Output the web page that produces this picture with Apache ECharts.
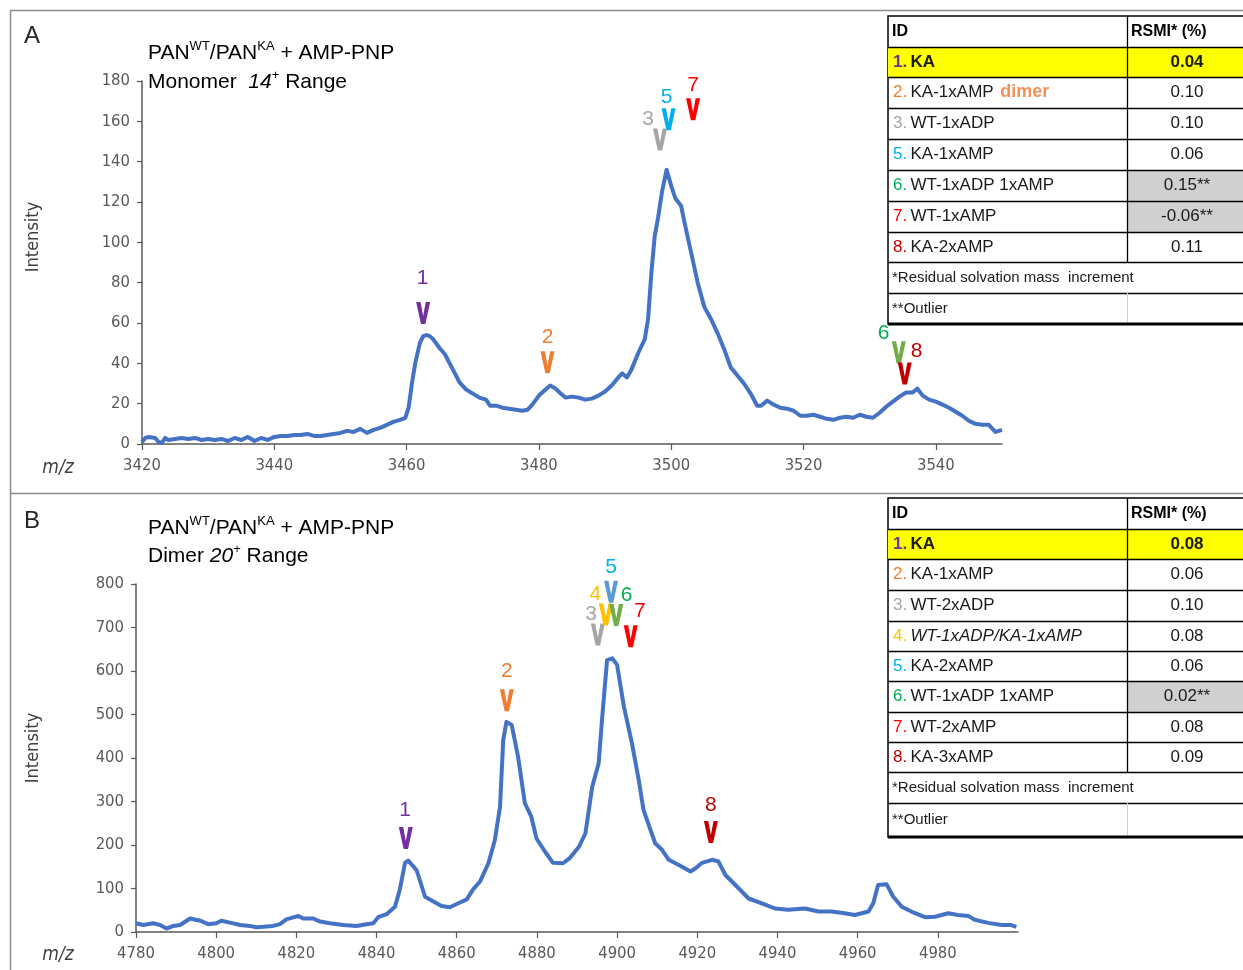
<!DOCTYPE html>
<html><head><meta charset="utf-8">
<script src="https://cdn.jsdelivr.net/npm/echarts/dist/echarts.min.js"></script>
<style>html,body{margin:0;padding:0;background:#fff}#c{width:1243px;height:970px}</style>
</head><body><div id="c"></div>
<script>
// ---------- Panel A data (Monomer 14+ range) ----------
const mzA = [3420,3420.5,3421,3422,3422.5,3423,3423.5,3424,3425,3426,3427,3428,3429,3430,3431,3432,3433,3434,3435,3436,3437,3438,3439,3440,3441,3442,3443,3444,3445,3446,3447,3448,3449,3450,3451,3452,3453,3454,3455,3456,3457,3458,3459,3459.8,3460.3,3460.8,3461.3,3462,3462.5,3463,3463.5,3464,3465,3465.8,3466.5,3467.3,3468,3469,3470,3471,3472,3472.6,3473.5,3474.5,3475.5,3476.5,3477.5,3478.3,3479,3480,3481,3481.7,3482.5,3483.3,3484,3485,3486,3487,3488,3489,3490,3491,3492,3492.6,3493.3,3494,3495,3496,3496.5,3497,3497.5,3498,3498.6,3499.3,3500,3500.6,3501.5,3502,3503,3504,3505,3506,3507,3508,3509,3510,3511,3512,3513,3513.6,3514.5,3515.5,3516.5,3517.5,3518.5,3519.5,3520.5,3521.5,3522.5,3523.5,3524.5,3525.5,3526.5,3527.5,3528.5,3529.5,3530.5,3531.5,3532.5,3533.5,3534.5,3535.5,3536.5,3537.2,3538,3539,3540,3541,3542,3543,3544,3545,3546,3547,3548,3549,3550];
const intA = [1,3,3.5,3,1,0.5,3,2,2.5,3,2.5,3,2,2.5,2,2.5,1.5,3,2,3.5,1.5,3,2,3.5,4,4,4.5,4.5,5,4,4,4.5,5,5.5,6.5,6,7.5,5.5,7,8,9.5,11,12,13,18,30,40,50,53.5,54,53.5,52,47.5,44.5,40,35,30.5,27,25,23,22,19,19,18,17.5,17,16.5,17,19.5,24,27,29,27.5,25,23,23.5,23,22,22.5,24,26,29,33,35,33,37,45,52,62,85,103,112,125,136,128,122,118,110,95,80,68,62,55,47,38,34,30,25,19,19,21.5,19.5,18,17.5,16.5,14,14,14.5,13.5,12.5,12,13,13.5,13,14.5,13.5,13,15.5,18.5,21,23.5,25.5,25.5,27.5,24,22,21,19.5,18,16,14,11.5,10,9.5,9.5,6,7];

// ---------- Panel B data (Dimer 20+ range) ----------
const mzB = [4780,4781.8,4784.3,4786,4787.6,4789.3,4791,4793.5,4796,4798,4800,4801.3,4803.4,4806,4808.4,4810,4811.8,4814.2,4815.9,4817.5,4820.5,4821.7,4824.2,4825.9,4828.4,4831.7,4835,4837.5,4839.2,4840.4,4842.5,4844.6,4845.8,4847.1,4847.9,4850,4852.1,4854.2,4856.2,4858.3,4860.4,4862.5,4864.1,4865.8,4867.9,4869.5,4870.8,4871.6,4872.4,4873.7,4875.3,4877,4878.6,4879.9,4882,4884,4886.5,4888.2,4890.5,4892.1,4893.8,4895.4,4896.3,4897.5,4898.8,4900,4901.7,4903.7,4905.4,4906.6,4909.5,4911.2,4912.9,4916.2,4918.3,4919.5,4921.2,4923.7,4925.3,4927,4929.5,4932.8,4936.1,4939.4,4942.7,4946.9,4950.2,4953.5,4956.8,4959.3,4962.7,4963.9,4965.1,4967.2,4968.9,4971,4973.4,4976.8,4979.3,4982.6,4985,4987.6,4989.2,4992.5,4995.9,4998.3,4999.6];
const intB = [20,16,20,16,8,14,16,31,26,18,20,26,21.5,16,14,11,12,14,18,29,37,31,31,24,20,16,14,18,20,34,41,58,97,159,164,142,81,70,60,57,66,75,98,116,158,211,288,441,483,476,403,296,265,215,185,159,158,170,196,227,334,388,495,625,629,614,518,434,349,280,204,189,166,150,139,146,159,166,162,131,108,77,66,54,51,54,47,47,43,39,47,66,108,110,81,58,47,34,35,43,39,37,28,21,16,16,12];

// ---------- Peak annotations (data coordinates) ----------
const annA_label = ['1','2','3','5','7','6','8'];
const annA_labelPos = [[3462.4,82],[3481.3,53],[3496.5,161],[3499.3,172],[3503.3,178],[3532.1,55],[3537.1,46]];
const annA_vPos = [[3462.5,65],[3481.3,40.5],[3498.3,151],[3499.6,161],[3503.3,166],[3534.4,45.5],[3535.3,35]];
const annA_labelColor = ['#7030A0','#ED7D31','#A5A5A5','#00B0F0','#FF0000','#00B050','#C00000'];
const annA_vColor = ['#7030A0','#ED7D31','#A5A5A5','#00B0F0','#FF0000','#70AD47','#C00000'];

const annB_label = ['1','2','3','4','5','6','7','8'];
const annB_labelPos = [[4847.1,280],[4872.5,600],[4893.5,731],[4894.6,777],[4898.5,839],[4902.4,775],[4905.7,738],[4923.4,292]];
const annB_vPos = [[4847.3,216],[4872.5,533],[4895.2,684],[4897.2,730],[4898.5,782],[4899.8,729],[4903.4,680],[4923.4,230]];
const annB_labelColor = ['#7030A0','#ED7D31','#A5A5A5','#FFC000','#00B0F0','#00B050','#FF0000','#C00000'];
const annB_vColor = ['#7030A0','#ED7D31','#A5A5A5','#FFC000','#5B9BD5','#70AD47','#FF0000','#C00000'];

// ---------- Tables ----------
const tblA_num = ['1.','2.','3.','5.','6.','7.','8.'];
const tblA_name = ['KA','KA-1xAMP','WT-1xADP','KA-1xAMP','WT-1xADP 1xAMP','WT-1xAMP','KA-2xAMP'];
const tblA_rsmi = ['0.04','0.10','0.10','0.06','0.15**','-0.06**','0.11'];
const tblA_numColor = ['#7030A0','#ED7D31','#A5A5A5','#00B0F0','#00B050','#FF0000','#C00000'];
const tblA_outlier = [false,false,false,false,true,true,false];

const tblB_num = ['1.','2.','3.','4.','5.','6.','7.','8.'];
const tblB_name = ['KA','KA-1xAMP','WT-2xADP','WT-1xADP/KA-1xAMP','KA-2xAMP','WT-1xADP 1xAMP','WT-2xAMP','KA-3xAMP'];
const tblB_rsmi = ['0.08','0.06','0.10','0.08','0.06','0.02**','0.08','0.09'];
const tblB_numColor = ['#7030A0','#ED7D31','#A5A5A5','#FFC000','#00B0F0','#00B050','#FF0000','#C00000'];
const tblB_outlier = [false,false,false,false,false,true,false,false];

const zip = (a,b) => a.map((v,i)=>[v,b[i]]);
const narrow = "'Liberation Sans Narrow','DejaVu Sans Condensed',sans-serif";
const sans = "'Liberation Sans',Arial,sans-serif";

const chart = echarts.init(document.getElementById('c'), null, {renderer:'canvas', width:1243, height:970});

function xAx(gi,min,max){
  return {type:'value',gridIndex:gi,min:min,max:max,interval:20,
    axisLine:{onZero:false,lineStyle:{color:'#595959',width:1.5}},
    axisTick:{length:6,lineStyle:{color:'#595959',width:1.2}},
    axisLabel:{color:'#595959',fontSize:16.5,fontFamily:narrow,margin:13,showMaxLabel:false,formatter:v=>String(v)},
    splitLine:{show:false}};
}
function yAx(gi,max,interval){
  return {type:'value',gridIndex:gi,min:0,max:max,interval:interval,
    axisLine:{show:true,lineStyle:{color:'#595959',width:1.5}},
    axisTick:{show:true,length:5,lineStyle:{color:'#595959',width:1.2}},
    axisLabel:{color:'#595959',fontSize:16.5,fontFamily:narrow,margin:12,formatter:v=>String(v)},
    splitLine:{show:false}};
}

const option = {
  animation:false,
  backgroundColor:'#fff',
  grid:[
    {left:142,top:81,width:860,height:363},
    {left:136,top:584,width:882,height:348}
  ],
  xAxis:[xAx(0,3420,3550), xAx(1,4780,5000)],
  yAxis:[yAx(0,180,20), yAx(1,800,100)],
  series:[
    {type:'line',xAxisIndex:0,yAxisIndex:0,data:zip(mzA,intA),showSymbol:false,
      lineStyle:{color:'#4472C4',width:4,join:'round'},z:3},
    {type:'line',xAxisIndex:1,yAxisIndex:1,data:zip(mzB,intB),showSymbol:false,
      lineStyle:{color:'#4472C4',width:4,join:'round'},z:3}
  ]
};
chart.setOption(option);

const g = [];
// panel frames
g.push({type:'line',shape:{x1:10.5,y1:10,x2:10.5,y2:970},style:{stroke:'#8c8c8c',lineWidth:1.5},z:1});
g.push({type:'line',shape:{x1:10,y1:10.5,x2:1243,y2:10.5},style:{stroke:'#8c8c8c',lineWidth:1.5},z:1});
g.push({type:'line',shape:{x1:10,y1:493.5,x2:1243,y2:493.5},style:{stroke:'#8c8c8c',lineWidth:1.5},z:1});

// titles
const titleRich = {
  m:{fontSize:21,fontFamily:sans,color:'#262626',lineHeight:26},
  s:{fontSize:13,fontFamily:sans,color:'#262626',verticalAlign:'top',lineHeight:26,padding:[0,0,10,0]},
  i:{fontSize:21,fontFamily:sans,color:'#262626',fontStyle:'italic',lineHeight:26}
};
function addTitle(letter, ly, y1, y2, line2){
  g.push({type:'text',left:24,top:ly-13,style:{text:letter,fontSize:24,fontFamily:sans,fill:'#262626'},z:10});
  g.push({type:'text',left:148,top:y1-12,style:{text:'{m|PAN}{s|WT}{m|/PAN}{s|KA}{m| + AMP-PNP}',rich:titleRich},z:10});
  g.push({type:'text',left:148,top:y2-13,style:{text:line2,rich:titleRich},z:10});
}
addTitle('A',37,52,82,'{m|Monomer  }{i|14}{s|+}{m| Range}');
addTitle('B',522,527,556,'{m|Dimer }{i|20}{s|+}{m| Range}');

// axis names
function addYName(y){
  g.push({type:'text',x:33,y:y,rotation:Math.PI/2,style:{text:'Intensity',fontSize:18,fontFamily:narrow,fill:'#404040',align:'center',verticalAlign:'middle'},z:10});
}
addYName(237); addYName(748);
g.push({type:'text',x:58,y:468,style:{text:'m/z',fontSize:19,fontFamily:narrow,fontStyle:'italic',fill:'#404040',align:'center',verticalAlign:'middle'},z:10});
g.push({type:'text',x:58,y:955,style:{text:'m/z',fontSize:19,fontFamily:narrow,fontStyle:'italic',fill:'#404040',align:'center',verticalAlign:'middle'},z:10});

// peak annotations: chevron glyph + number
function addAnn(gi, labels, lpos, vpos, lcol, vcol){
  labels.forEach((t,i)=>{
    const pv = chart.convertToPixel({gridIndex:gi}, vpos[i]);
    const cx = pv[0], cy = pv[1];
    g.push({type:'polygon',shape:{points:[[cx-7,cy-11],[cx-2.6,cy-11],[cx,cy+3],[cx+2.6,cy-11],[cx+7,cy-11],[cx+2.2,cy+11],[cx-2.2,cy+11]]},
      style:{fill:vcol[i]},z:20});
    const pl = chart.convertToPixel({gridIndex:gi}, lpos[i]);
    g.push({type:'text',x:pl[0],y:pl[1],style:{text:t,fontSize:21,fontFamily:sans,fill:lcol[i],align:'center',verticalAlign:'middle'},z:21});
  });
}
addAnn(0, annA_label, annA_labelPos, annA_vPos, annA_labelColor, annA_vColor);
addAnn(1, annB_label, annB_labelPos, annB_vPos, annB_labelColor, annB_vColor);

// tables
function addTable(lines, nums, names, vals, numColors, outl, extraRow2, italicRow){
  const x0 = 888, xd = 1127, x1 = 1250, xc = 1187;
  const top = lines[0], bottom = lines[lines.length-1];
  g.push({type:'rect',shape:{x:x0,y:top,width:x1-x0,height:bottom-top},style:{fill:'#fff',stroke:'#000',lineWidth:1.5},z:30});
  g.push({type:'rect',shape:{x:x0,y:lines[1],width:x1-x0,height:lines[2]-lines[1]},style:{fill:'#FFFF00'},z:31});
  outl.forEach((o,i)=>{ if(o) g.push({type:'rect',shape:{x:xd,y:lines[i+1],width:x1-xd,height:lines[i+2]-lines[i+1]},style:{fill:'#D0D0D0'},z:31}); });
  for(let k=1;k<lines.length-1;k++){
    g.push({type:'line',shape:{x1:x0,y1:lines[k]+0.5,x2:x1,y2:lines[k]+0.5},style:{stroke:'#000',lineWidth:1.3},z:33});
  }
  const nRows = nums.length;
  g.push({type:'line',shape:{x1:xd+0.5,y1:top,x2:xd+0.5,y2:lines[nRows+1]},style:{stroke:'#000',lineWidth:1.3},z:33});
  g.push({type:'line',shape:{x1:xd+0.5,y1:lines[nRows+2],x2:xd+0.5,y2:bottom},style:{stroke:'#d0d0d0',lineWidth:1},z:33});
  g.push({type:'line',shape:{x1:x0,y1:bottom,x2:x1,y2:bottom},style:{stroke:'#000',lineWidth:3},z:34});
  const mid = k => (lines[k]+lines[k+1])/2;
  const fs = 17;
  g.push({type:'text',x:x0+4,y:mid(0),style:{text:'ID',fontSize:16,fontWeight:'bold',fontFamily:sans,fill:'#000',verticalAlign:'middle'},z:35});
  g.push({type:'text',x:xd+4,y:mid(0),style:{text:'RSMI* (%)',fontSize:16,fontWeight:'bold',fontFamily:sans,fill:'#000',verticalAlign:'middle'},z:35});
  nums.forEach((n,i)=>{
    const bold = i===0 ? 'bold' : 'normal';
    let txt = '{n|'+n+'} {t|'+names[i]+'}';
    if(i===1 && extraRow2) txt += '  {d|'+extraRow2+'}';
    g.push({type:'text',x:x0+5,y:mid(i+1),style:{text:txt,verticalAlign:'middle',rich:{
      n:{fontSize:fs,fontFamily:sans,fontWeight:bold,fill:numColors[i]},
      t:{fontSize:fs,fontFamily:sans,fontWeight:bold,fontStyle:(italicRow===i?'italic':'normal'),fill:'#1a1a1a'},
      d:{fontSize:fs+1,fontFamily:sans,fontWeight:'bold',fill:'#F4915A'}
    }},z:35});
    g.push({type:'text',x:xc,y:mid(i+1),style:{text:vals[i],fontSize:fs,fontFamily:sans,fontWeight:bold,fill:'#1a1a1a',align:'center',verticalAlign:'middle'},z:35});
  });
  g.push({type:'text',x:x0+4,y:mid(nRows+1),style:{text:'*Residual solvation mass  increment',fontSize:15,fontFamily:sans,fill:'#1a1a1a',verticalAlign:'middle'},z:35});
  g.push({type:'text',x:x0+4,y:mid(nRows+2),style:{text:'**Outlier',fontSize:15,fontFamily:sans,fill:'#1a1a1a',verticalAlign:'middle'},z:35});
}
addTable([16,47,77,108,139,170,201,232,262,293,324], tblA_num, tblA_name, tblA_rsmi, tblA_numColor, tblA_outlier, 'dimer', -1);
addTable([498,529,559,590,621,651,681,712,742,772,803,837], tblB_num, tblB_name, tblB_rsmi, tblB_numColor, tblB_outlier, null, 3);

chart.setOption({graphic:g});
</script></body></html>
